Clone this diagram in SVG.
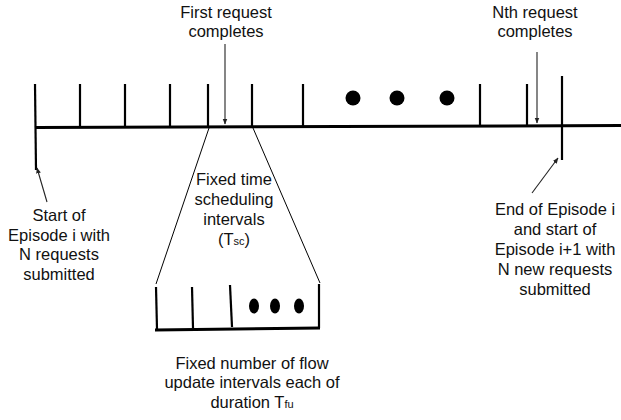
<svg xmlns="http://www.w3.org/2000/svg" width="621" height="420" viewBox="0 0 621 420">
<style>
text{font-family:"Liberation Sans",Arial,sans-serif;font-size:16.5px;fill:#111;text-anchor:middle}
.sub{font-size:11px}
.axis{stroke:#000;stroke-width:3;fill:none}
.tick{stroke:#000;stroke-width:2.2;fill:none}
.thin{stroke:#000;stroke-width:1;fill:none}
.arr{stroke:#222;stroke-width:1.1;fill:none;marker-end:url(#ah)}
.dot{fill:#000}
</style>
<defs>
<marker id="ah" viewBox="0 0 10 10" refX="9" refY="5" markerWidth="6" markerHeight="6" orient="auto" markerUnits="userSpaceOnUse">
<path d="M0,1 L10,5 L0,9 z" fill="#222"/>
</marker>
</defs>
<g id="timeline">
<line class="axis" x1="36" y1="127.5" x2="621" y2="125.5"/>
<line class="tick" x1="35" y1="84" x2="36" y2="170"/>
<line class="tick" x1="80" y1="84" x2="80" y2="127"/>
<line class="tick" x1="125" y1="84" x2="125" y2="127"/>
<line class="tick" x1="170" y1="84" x2="170" y2="127"/>
<line class="tick" x1="208" y1="84" x2="208" y2="127"/>
<line class="tick" x1="252" y1="84" x2="252" y2="127"/>
<line class="tick" x1="303" y1="84" x2="303" y2="127"/>
<line class="tick" x1="480" y1="84" x2="480" y2="126"/>
<line class="tick" x1="527" y1="84" x2="527" y2="126"/>
<line class="tick" x1="562" y1="76" x2="562" y2="160"/>
<circle class="dot" cx="353" cy="98" r="7.5"/>
<circle class="dot" cx="397" cy="98" r="7.5"/>
<circle class="dot" cx="447" cy="98" r="7.5"/>
</g>
<g id="zoom">
<line class="thin" x1="209" y1="128" x2="156" y2="284"/>
<line class="thin" x1="253" y1="128" x2="320" y2="283"/>
</g>
<g id="subintervals">
<line class="axis" x1="155" y1="330" x2="320" y2="328"/>
<line class="tick" x1="156" y1="287" x2="157" y2="329"/>
<line class="tick" x1="192" y1="287" x2="193" y2="328"/>
<line class="tick" x1="230" y1="285" x2="232" y2="327"/>
<line class="tick" x1="319" y1="284" x2="319" y2="328"/>
<ellipse class="dot" cx="254" cy="306" rx="5" ry="7.5"/>
<ellipse class="dot" cx="275" cy="306" rx="5" ry="7.5"/>
<ellipse class="dot" cx="299" cy="306" rx="5" ry="7.5"/>
</g>
<g id="connectors">
<line class="arr" x1="225" y1="44" x2="225" y2="124"/>
<line class="arr" x1="537" y1="52" x2="537" y2="123"/>
<line class="arr" x1="47" y1="202" x2="37" y2="168"/>
<line class="arr" x1="532" y1="193" x2="558" y2="158"/>
</g>
<g id="label-first">
<text x="226" y="18">First request</text>
<text x="226" y="37">completes</text>
</g>
<g id="label-nth">
<text x="535" y="18">Nth request</text>
<text x="535" y="37">completes</text>
</g>
<g id="label-start">
<text x="59" y="221">Start of</text>
<text x="59" y="241">Episode i with</text>
<text x="59" y="260">N requests</text>
<text x="59" y="280">submitted</text>
</g>
<g id="label-interval">
<text x="234" y="185">Fixed time</text>
<text x="234" y="205">scheduling</text>
<text x="234" y="225">intervals</text>
<text x="234" y="245">(T<tspan class="sub">sc</tspan>)</text>
</g>
<g id="label-end">
<text x="555" y="215">End of Episode i</text>
<text x="555" y="235">and start of</text>
<text x="555" y="255">Episode i+1 with</text>
<text x="555" y="275">N new requests</text>
<text x="555" y="295">submitted</text>
</g>
<g id="label-flow">
<text x="252" y="369">Fixed number of flow</text>
<text x="252" y="388">update intervals each of</text>
<text x="252" y="408">duration T<tspan class="sub">fu</tspan></text>
</g>
</svg>
